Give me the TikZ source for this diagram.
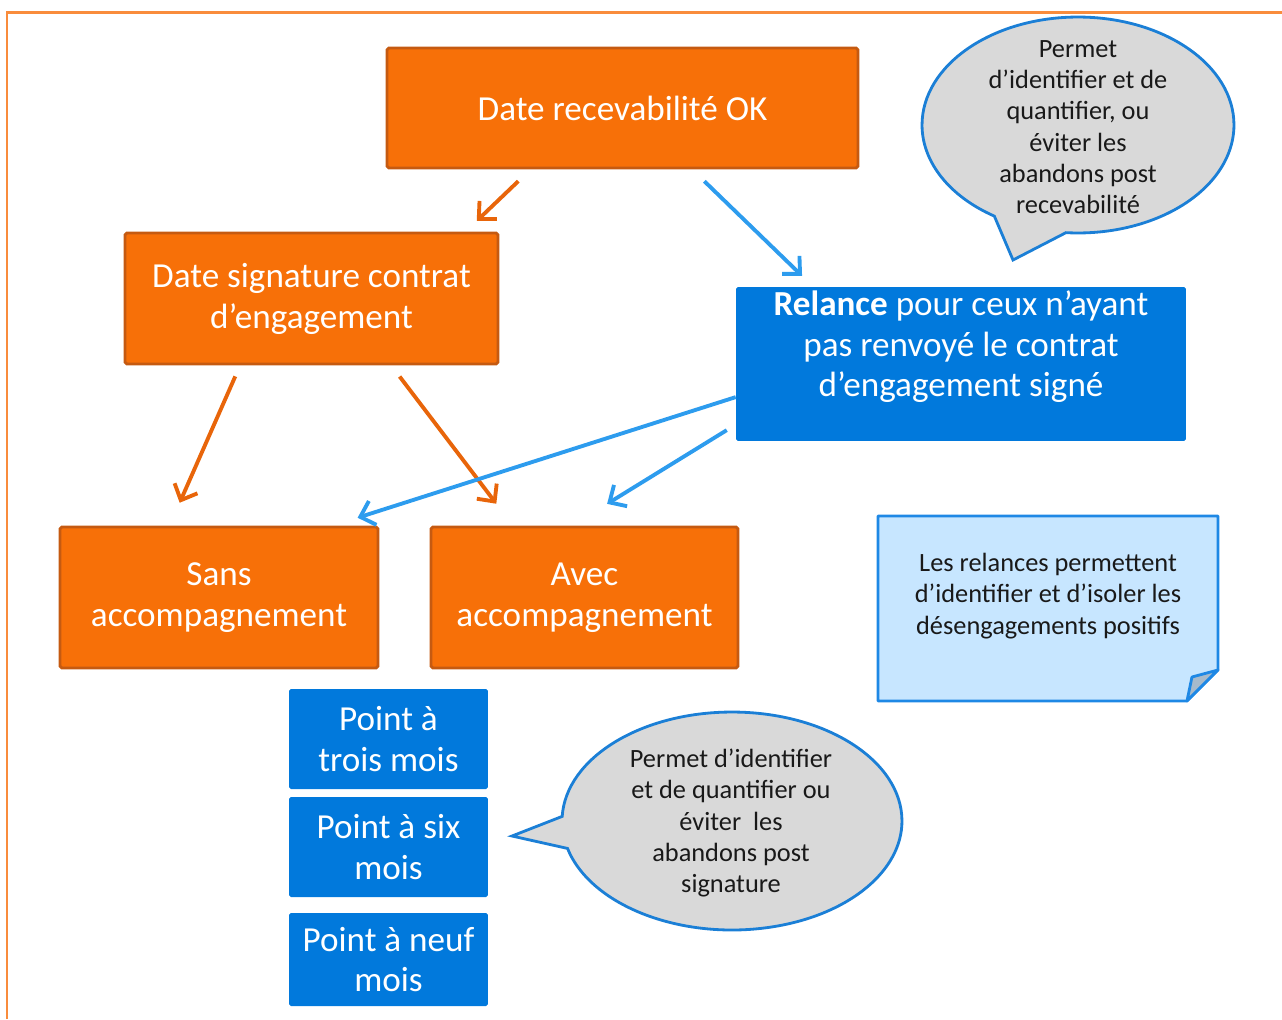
\documentclass[tikz,border=0pt]{standalone}
\usepackage{fontspec}
\setmainfont{Carlito}
\usetikzlibrary{arrows.meta, calc, shapes.callouts}

\definecolor{orangefill}{HTML}{F77008}
\definecolor{orangeedge}{HTML}{C55A11}
\definecolor{orangeline}{HTML}{E8650A}
\definecolor{frameorange}{HTML}{F98C3C}
\definecolor{bluefill}{HTML}{0179DC}
\definecolor{blueline}{HTML}{2D9CEE}
\definecolor{bubbleedge}{HTML}{1B7FD6}
\definecolor{bubblefill}{HTML}{D9D9D9}
\definecolor{notefill}{HTML}{C7E6FF}
\definecolor{noteedge}{HTML}{1E88E5}
\definecolor{foldfill}{HTML}{A7BACB}

\begin{document}
\begin{tikzpicture}[
  x=0.02cm, y=-0.02cm,
  orangebox/.style={draw=orangeedge, line width=1.6pt, fill=orangefill, text=white, rounded corners=1pt, align=center, font=\fontsize{20}{23.3}\selectfont},
  bluebox/.style={fill=bluefill, text=white, rounded corners=1pt, align=center, font=\fontsize{20}{23}\selectfont},
  bubble/.style={ellipse callout, draw=bubbleedge, fill=bubblefill, line width=1.6pt, inner sep=0pt},
  smalltext/.style={align=center, text=black!90, font=\fontsize{15}{17.8}\selectfont},
  orangearrow/.style={draw=orangeline, line width=2.2pt, -{Straight Barb[length=2.6mm, width=5mm]}},
  bluearrow/.style={draw=blueline, line width=2.2pt, -{Straight Barb[length=2.6mm, width=5mm]}}
]
\useasboundingbox (0,0) rectangle (1282,1019);

% frame
\draw[frameorange, line width=1.7pt] (7,1019) -- (7,12) -- (1282,12);

% orange boxes
\node[orangebox, minimum width=9.42cm, minimum height=2.4cm] (recev) at (622.5,108) {Date recevabilité OK};
\node[orangebox, minimum width=7.46cm, minimum height=2.62cm] (signature) at (311.5,298.5) {Date signature contrat\\d’engagement};
\node[orangebox, minimum width=6.36cm, minimum height=2.82cm] (sans) at (219,597.5) {Sans\\accompagnement};
\node[orangebox, minimum width=6.14cm, minimum height=2.82cm] (avec) at (584.5,597.5) {Avec\\accompagnement};

% relance
\node[bluebox, minimum width=9cm, minimum height=3.08cm] (relance) at (961,364) {};
\node[align=center, text=white, font=\fontsize{20}{23}\selectfont] (relancetext) at (961,347) {\textbf{Relance} pour ceux n’ayant\\pas renvoyé le contrat\\d’engagement signé};

% points
\node[bluebox, minimum width=3.98cm, minimum height=2cm] (trois) at (388.5,739) {Point à\\trois mois};
\node[bluebox, minimum width=3.98cm, minimum height=2cm] (six) at (388.5,847) {Point à six\\mois};
\node[bluebox, minimum width=3.98cm, minimum height=1.86cm] (neuf) at (388.5,959.5) {Point à neuf\\mois};

% bubbles
\coordinate (toptip) at (1013,260);
\node[bubble, minimum width=6.24cm, minimum height=4.32cm, callout absolute pointer={(toptip)}, callout pointer arc=28] (topbubble) at (1078,125) {};
\node[smalltext] (topbubbletext) at (1078,127) {Permet\\d’identifier et de\\quantifier, ou\\éviter les\\abandons post\\recevabilité};

\coordinate (bottip) at (512,836);
\node[bubble, minimum width=6.8cm, minimum height=4.36cm, callout absolute pointer={(bottip)}, callout pointer arc=17] (botbubble) at (732,821) {};
\node[smalltext] (botbubbletext) at (731,823) {Permet d’identifier\\et de quantifier ou\\éviter~ les\\abandons post\\signature};

% note
\node[minimum width=6.8cm, minimum height=3.7cm, inner sep=0pt, outer sep=0pt] (note) at (1048,608.5) {};
\draw[noteedge, fill=notefill, line width=1.6pt, line join=round] (note.north west) -- (note.north east) -- ([yshift=0.62cm]note.south east) -- ([xshift=-0.62cm]note.south east) -- (note.south west) -- cycle;
\draw[noteedge, fill=foldfill, line width=1.6pt, line join=round] ([xshift=-0.62cm]note.south east) -- ([shift={(-0.52cm,0.48cm)}]note.south east) -- ([yshift=0.62cm]note.south east) -- cycle;
\node[smalltext] (notetext) at (1048,596) {Les relances permettent\\d’identifier et d’isoler les\\désengagements positifs};

% arrows
\draw[orangearrow, shorten <=0.34cm, shorten >=0.31cm] ($(recev.south west)!0.306!(recev.south east)$) -- ($(signature.north west)!0.91!(signature.north east)$);
\draw[bluearrow, shorten <=0.34cm, shorten >=0.31cm] ($(recev.south west)!0.647!(recev.south east)$) -- ($(relance.north west)!0.172!(relance.north east)$);
\draw[orangearrow, shorten <=0.24cm, shorten >=0.5cm] ($(signature.south west)!0.31!(signature.south east)$) -- ($(sans.north west)!0.346!(sans.north east)$);
\draw[orangearrow, shorten <=0.28cm, shorten >=0.55cm] ($(signature.south west)!0.712!(signature.south east)$) -- ($(avec.north west)!0.269!(avec.north east)$);
\draw[bluearrow, shorten >=0.52cm] ($(relance.north west)!0.714!(relance.south west)$) -- ($(sans.north west)!0.855!(sans.north east)$);
\draw[bluearrow, shorten <=0.21cm, shorten >=0.83cm] ($(relance.north west)!0.892!(relance.south west)$) -- ($(avec.north west)!0.459!(avec.north east)$);

\end{tikzpicture}
\end{document}
